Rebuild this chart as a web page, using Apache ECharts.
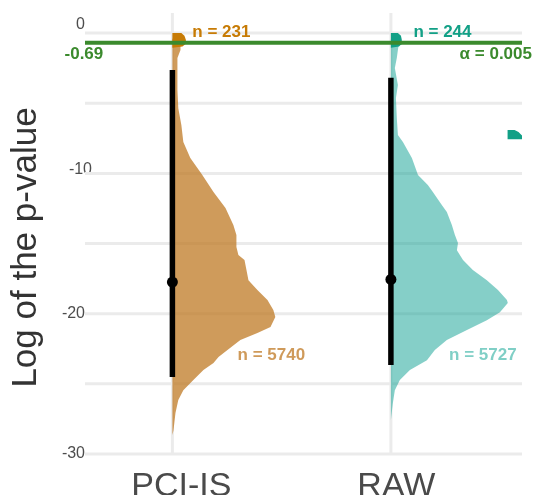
<!DOCTYPE html>
<html>
<head>
<meta charset="utf-8">
<script src="https://cdn.jsdelivr.net/npm/echarts@6/dist/echarts.min.js"></script>
<style>
  html, body { margin: 0; padding: 0; background: #fff; }
  #chart { width: 535px; height: 495px; }
</style>
</head>
<body>
<div id="chart"></div>
<script>
// Groups on the x axis (placed at 1 and 2)
const categories = ['PCI-IS', 'RAW'];
const categoryPos = [1, 2];

// Sample sizes
const nSignificant = [5740, 5727];
const nAboveAlpha = [231, 244];

// Threshold (log scale) and its nominal alpha
const alphaLog = -0.69;
const alphaLabel = 0.005;

// Interval and median of the log p-values per group
const intervalLow = [-24.52, -23.66];
const intervalHigh = [-2.64, -3.19];
const medianLogP = [-17.75, -17.56];

// Half-violin outline, PCI-IS: log p-value and half-width (category units)
const pciLogP = [-0.4, -0.71, -1.21, -1.78, -2.99, -4.06, -5.35, -6.56, -7.77, -8.91, -10.12,
  -11.33, -12.47, -13.68, -14.40, -15.25, -15.82, -16.18, -16.89, -17.61, -18.32, -19.03,
  -19.74, -20.24, -20.95, -21.38, -21.88, -22.59, -23.09, -23.52, -24.02, -24.73, -25.45,
  -26.16, -27.08, -28.30, -28.65];
const pciHalfWidth = [0.046, 0.037, 0.037, 0.023, 0.023, 0.023, 0.027, 0.041, 0.050, 0.082, 0.137,
  0.188, 0.243, 0.279, 0.293, 0.293, 0.302, 0.330, 0.339, 0.348, 0.389, 0.435,
  0.462, 0.471, 0.449, 0.389, 0.311, 0.252, 0.211, 0.188, 0.142, 0.096, 0.050,
  0.027, 0.014, 0.005, 0.0];

// Half-violin outline, RAW
const rawLogP = [-0.4, -0.71, -1.21, -1.78, -2.49, -3.71, -4.63, -6.06, -7.27, -7.77, -8.91,
  -10.12, -10.83, -11.33, -12.26, -12.76, -13.68, -14.40, -14.97, -15.47, -16.18, -16.89,
  -17.61, -18.32, -19.03, -19.24, -19.89, -20.46, -21.17, -21.88, -22.59, -23.31, -24.02,
  -24.73, -25.45, -26.37, -27.58];
const rawHalfWidth = [0.040, 0.037, 0.032, 0.027, 0.018, 0.032, 0.023, 0.027, 0.032, 0.055, 0.096,
  0.124, 0.169, 0.192, 0.233, 0.256, 0.279, 0.293, 0.307, 0.302, 0.330, 0.375,
  0.439, 0.490, 0.531, 0.535, 0.499, 0.439, 0.348, 0.256, 0.201, 0.165, 0.087,
  0.041, 0.018, 0.009, 0.0];

// Small half-violins of the values above the threshold
const pciTopLogP = [0, -0.2, -0.5, -0.8, -0.95, -1.05];
const pciTopHalfWidth = [0.041, 0.055, 0.062, 0.059, 0.046, 0.0];
const rawTopLogP = [0, -0.2, -0.5, -0.8, -0.95, -1.05];
const rawTopHalfWidth = [0.032, 0.046, 0.050, 0.048, 0.037, 0.0];

// Stray RAW blob near the right edge
const strayPos = 2.534;
const strayLogP = [-6.91, -7.05, -7.2, -7.35, -7.56];
const strayHalfWidth = [0.032, 0.050, 0.059, 0.069, 0.073];

// Horizontal grid values
const hGridValues = [-30, -25, -20, -15, -10, -5, 0];

const TAN = 'rgba(188,116,28,0.72)';
const TEAL = 'rgba(12,160,146,0.5)';
const ORANGE_DARK = '#c77b05';
const TEAL_DARK = '#12a086';
const GREEN = '#3b8a2d';
const FONT = '"Liberation Sans", Arial, sans-serif';

const shapes = [
  { pos: categoryPos[0], logP: pciLogP, half: pciHalfWidth, fill: TAN, z: 2 },
  { pos: categoryPos[1], logP: rawLogP, half: rawHalfWidth, fill: TEAL, z: 2 },
  { pos: categoryPos[0], logP: pciTopLogP, half: pciTopHalfWidth, fill: ORANGE_DARK, z: 3 },
  { pos: categoryPos[1], logP: rawTopLogP, half: rawTopHalfWidth, fill: TEAL_DARK, z: 3 },
  { pos: strayPos, logP: strayLogP, half: strayHalfWidth, fill: TEAL_DARK, z: 3 }
];

const textLabels = [
  { text: 'n = ' + nAboveAlpha[0], x: 1.224, v: 0.07, color: ORANGE_DARK },
  { text: 'n = ' + nAboveAlpha[1], x: 2.236, v: 0.07, color: TEAL_DARK },
  { text: 'n = ' + nSignificant[0], x: 1.453, v: -22.95, color: '#cf9a5a' },
  { text: 'n = ' + nSignificant[1], x: 2.421, v: -22.95, color: '#80cfc6' },
  { text: String(alphaLog), x: 0.595, v: -1.5, color: GREEN },
  { text: '\u03b1 = ' + alphaLabel, x: 2.48, v: -1.5, color: GREEN }
];

function violinItem(shape) {
  return function (params, api) {
    const pts = [api.coord([shape.pos, shape.logP[0]])];
    for (let i = 0; i < shape.logP.length; i++) {
      pts.push(api.coord([shape.pos + shape.half[i], shape.logP[i]]));
    }
    pts.push(api.coord([shape.pos, shape.logP[shape.logP.length - 1]]));
    return { type: 'polygon', shape: { points: pts }, style: { fill: shape.fill } };
  };
}

const chart = echarts.init(document.getElementById('chart'), null, { renderer: 'canvas' });

const series = [];

// grid lines
series.push({
  type: 'custom', silent: true, z: 1,
  data: hGridValues.map(v => [1, v]),
  renderItem(params, api) {
    const cs = params.coordSys;
    const y = api.coord([1, api.value(1)])[1];
    return { type: 'line', shape: { x1: cs.x, y1: y, x2: cs.x + cs.width, y2: y },
      style: { stroke: '#ebebeb', lineWidth: 3 } };
  }
});
series.push({
  type: 'custom', silent: true, z: 1,
  data: categoryPos.map(p => [p, 0]),
  renderItem(params, api) {
    const cs = params.coordSys;
    const x = api.coord([api.value(0), 0])[0];
    return { type: 'line', shape: { x1: x, y1: cs.y, x2: x, y2: cs.y + cs.height },
      style: { stroke: '#ebebeb', lineWidth: 3 } };
  }
});

// violins
shapes.forEach(s => {
  series.push({
    type: 'custom', silent: true, clip: true, z: s.z,
    data: [[s.pos, s.logP[0]]],
    renderItem: violinItem(s)
  });
});

// intervals
series.push({
  type: 'custom', silent: true, z: 4,
  data: categoryPos.map((p, i) => [p, intervalLow[i], intervalHigh[i]]),
  renderItem(params, api) {
    const a = api.coord([api.value(0), api.value(1)]);
    const b = api.coord([api.value(0), api.value(2)]);
    return { type: 'line', shape: { x1: a[0], y1: a[1], x2: b[0], y2: b[1] },
      style: { stroke: '#000', lineWidth: 5.5 } };
  }
});

// threshold line
series.push({
  type: 'custom', silent: true, z: 5,
  data: [[1, alphaLog]],
  renderItem(params, api) {
    const cs = params.coordSys;
    const y = api.coord([1, api.value(1)])[1];
    return { type: 'line', shape: { x1: cs.x, y1: y, x2: cs.x + cs.width, y2: y },
      style: { stroke: GREEN, lineWidth: 4 } };
  }
});

// medians
series.push({
  type: 'scatter', silent: true, z: 6,
  symbolSize: 11,
  itemStyle: { color: '#000', opacity: 1 },
  data: categoryPos.map((p, i) => [p, medianLogP[i]])
});

// annotations
series.push({
  type: 'custom', silent: true, z: 7, clip: false,
  data: textLabels.map(l => [l.x, l.v]),
  renderItem(params, api) {
    const l = textLabels[params.dataIndex];
    const p = api.coord([api.value(0), api.value(1)]);
    return { type: 'text', x: p[0], y: p[1],
      style: { text: l.text, fill: l.color, font: 'bold 17px ' + FONT,
        align: 'center', verticalAlign: 'middle' } };
  }
});

chart.setOption({
  animation: false,
  backgroundColor: '#fff',
  grid: { left: 85, right: 13, top: 13, bottom: 41, containLabel: false, outerBoundsMode: 'none' },
  xAxis: {
    type: 'value', min: 0.6, max: 2.6,
    axisLine: { show: false }, axisTick: { show: false }, splitLine: { show: false },
    axisLabel: {
      customValues: categoryPos,
      margin: 16,
      formatter: v => {
        const i = categoryPos.indexOf(v);
        return i === 0 ? '{a|' + categories[0] + '}' : (i === 1 ? '{b|' + categories[1] + '}' : '');
      },
      rich: {
        a: { fontSize: 34, color: '#4a4a4a', fontFamily: FONT, padding: [0, 0, 0, 18] },
        b: { fontSize: 34, color: '#4a4a4a', fontFamily: FONT, padding: [0, 0, 0, 11] }
      }
    }
  },
  yAxis: {
    type: 'value', min: -30, max: 1.43, interval: 5,
    axisLine: { show: false }, axisTick: { show: false }, splitLine: { show: false },
    name: 'Log of the p-value', nameLocation: 'middle', nameGap: 41,
    nameTextStyle: { fontSize: 35, color: '#333', fontFamily: FONT, padding: [0, 28, 0, 0] },
    axisLabel: {
      margin: -7,
      formatter: v => {
        if (v === 0) return '{a|0}';
        if (v === -10) return '{b|-10}';
        if (v % 10 === 0) return '{c|' + v + '}';
        return '';
      },
      rich: {
        a: { fontSize: 16, color: '#4d4d4d', fontFamily: FONT, padding: [0, 7, 16, 0] },
        b: { fontSize: 16, color: '#4d4d4d', fontFamily: FONT, padding: [0, 0, 8, 0] },
        c: { fontSize: 16, color: '#4d4d4d', fontFamily: FONT, padding: [0, 7, 0, 0] }
      }
    }
  },
  series: series
});
</script>
</body>
</html>
